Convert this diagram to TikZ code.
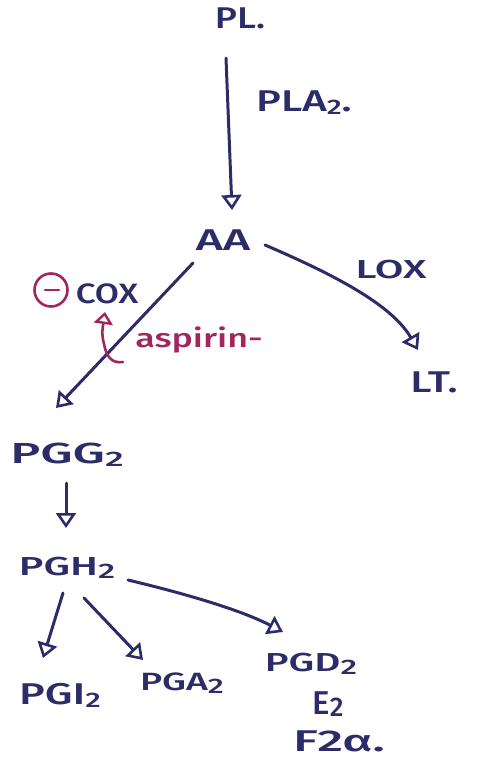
\documentclass[tikz,border=0pt]{standalone}
\usepackage{fontspec}
\setmainfont{Fira Sans}[UprightFont=* Medium]
\usetikzlibrary{arrows.meta,calc}
\definecolor{ink}{HTML}{2C2C68}
\definecolor{redink}{HTML}{A2255E}
% hand-lettered look: wide letters, low subscripts
\newcommand\wide[2][1.45]{\scalebox{#1}[1]{#2}}
\newcommand\sub[1]{\raisebox{-3pt}{\fontsize{21}{21}\selectfont #1}}
\newcommand\fs[1]{\fontsize{#1}{#1}\selectfont}

\begin{document}
\begin{tikzpicture}[x=1pt,y=-1pt,
  lbl/.style={text=ink, inner sep=0pt},
  red/.style={text=redink, inner sep=0pt},
  flow/.style={draw=ink, line width=3pt, line cap=round,
    -{Triangle[open,length=15pt,width=20pt,line width=2.6pt]}},
]
\useasboundingbox (0,0) rectangle (477,764);

% metabolites
\node[lbl] (pl)  at (240,18)  {\fs{30}\wide[1.25]{PL.}};
\node[lbl] (aa)  at (223,240) {\fs{30}\wide[1.55]{AA}};
\node[lbl] (lt)  at (434,382) {\fs{30}\wide[1.4]{LT.}};
\node[lbl] (pgg) at (67,455)  {\fs{29}\wide[1.75]{PGG\sub{2}}};
\node[lbl] (pgh) at (67,568)  {\fs{26}\wide[1.6]{PGH\sub{2}}};
\node[lbl] (pgi) at (60,695)  {\fs{30}\wide[1.45]{PGI\sub{2}}};
\node[lbl] (pga) at (182,683) {\fs{25}\wide[1.5]{PGA\sub{2}}};
\node[lbl] (pgd) at (311,664) {\fs{26}\wide[1.55]{PGD\sub{2}}};
\node[lbl] (e2)  at (328,704) {\fs{33}\wide[1.0]{E\raisebox{-2pt}{\fs{27}2}}};
\node[lbl] (f2a) at (339,741) {\fs{30}\wide[1.7]{F2α.}};

% enzymes
\node[lbl] (pla) at (304,103) {\fs{30}\wide[1.4]{PLA\sub{2}.}};
\node[lbl] (lox) at (391,270) {\fs{26}\wide[1.6]{LOX}};
\node[lbl] (cox) at (107,294) {\fs{28}\wide[1.25]{COX}};
\node[circle, draw=redink, line width=2.6pt, minimum size=33pt, inner sep=0pt] (inh) at (51,290) {};
\draw[redink, line width=2.6pt, line cap=round] ($(inh.center)+(-6,0)$) -- ($(inh.center)+(8,0)$);
\node[red] (asp) at (199,340) {\fs{26}\wide[1.38]{aspirin-}};

% pathway arrows
\draw[flow] ($(pl)+(-14,40)$) -- ($(aa)+(9,-30)$);
\draw[flow] ($(aa)+(42,5)$) .. controls (335,275) and (392,305) .. ($(lt)+(-16,-32)$);
\draw[flow] ($(aa)+(-30,23)$) -- ($(pgg)+(-11,-47)$);
\draw[flow] ($(pgg)+(-1,28)$) -- ($(pgh)+(-1,-40)$);
\draw[flow] ($(pgh)+(-4,25)$) -- ($(pgi)+(-17,-37)$);
\draw[flow] ($(pgh)+(17,30)$) -- ($(pga)+(-39,-23)$);
\draw[flow] ($(pgh)+(61,12)$) .. controls (195,596) and (245,612) .. ($(pgd)+(-28,-32)$);

% aspirin blocks COX
\draw[redink, line width=2.6pt, line cap=round,
  -{Triangle[open,length=12pt,width=19pt,line width=2.4pt]}]
  ($(asp)+(-76,22)$) .. controls (110,364) and (106,354) .. (104,344)
  .. controls (101,333) and (103,326) .. ($(cox)+(-2,18)$);
\end{tikzpicture}
\end{document}
